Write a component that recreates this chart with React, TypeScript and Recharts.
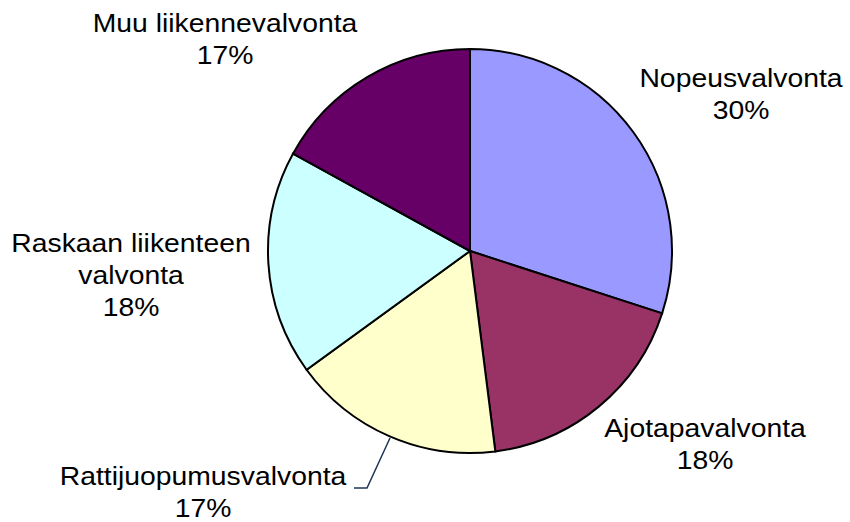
import { PieChart, Pie, Cell } from 'recharts'

const categories = [
  'Nopeusvalvonta',
  'Ajotapavalvonta',
  'Rattijuopumusvalvonta',
  'Raskaan liikenteen valvonta',
  'Muu liikennevalvonta',
]
const shares = [30, 18, 17, 18, 17]
const labelLines = [
  ['Nopeusvalvonta', '30%'],
  ['Ajotapavalvonta', '18%'],
  ['Rattijuopumusvalvonta', '17%'],
  ['Raskaan liikenteen', 'valvonta', '18%'],
  ['Muu liikennevalvonta', '17%'],
]

const COLORS = ['#9999FF', '#993366', '#FFFFCC', '#CCFFFF', '#660066']

// label anchor (centre x, first baseline) relative to pie centre
const LABEL_POS = [
  [271, -164],
  [235, 186],
  [-267, 234],
  [-339, 1],
  [-245, -219],
]
const LINE_H = 32

const data = categories.map((name, i) => ({ name, value: shares[i] }))

function renderLabel(props: any) {
  const { cx, cy, index } = props
  const [dx, dy] = LABEL_POS[index]
  const x = cx + dx
  const y = cy + dy
  return (
    <g key={`lbl-${index}`}>
      {index === 2 && (
        <polyline
          points={`${cx - 80},${cy + 187} ${cx - 103},${cy + 237} ${cx - 116},${cy + 237}`}
          fill="none"
          stroke="#1f3558"
          strokeWidth={1.5}
        />
      )}
      {labelLines[index].map((t, j) => (
        <text
          key={j}
          transform={`translate(${x},${y + j * LINE_H}) scale(1.09,1)`}
          textAnchor="middle"
          fontSize={26}
          fontFamily="'Liberation Sans', Arial, sans-serif"
          fill="#000"
        >
          {t}
        </text>
      ))}
    </g>
  )
}

export default function App() {
  return (
    <div style={{ position: 'absolute', left: 0, top: 0, background: '#fff' }}>
      <PieChart width={850} height={522} margin={{ top: 0, right: 0, bottom: 0, left: 0 }}>
        <Pie
          data={data}
          dataKey="value"
          nameKey="name"
          cx={470}
          cy={251}
          outerRadius={202}
          startAngle={90}
          endAngle={-270}
          stroke="#000"
          strokeWidth={2}
          label={renderLabel}
          labelLine={false}
          isAnimationActive={false}
        >
          {data.map((d, i) => (
            <Cell key={d.name} fill={COLORS[i]} />
          ))}
        </Pie>
      </PieChart>
    </div>
  )
}
